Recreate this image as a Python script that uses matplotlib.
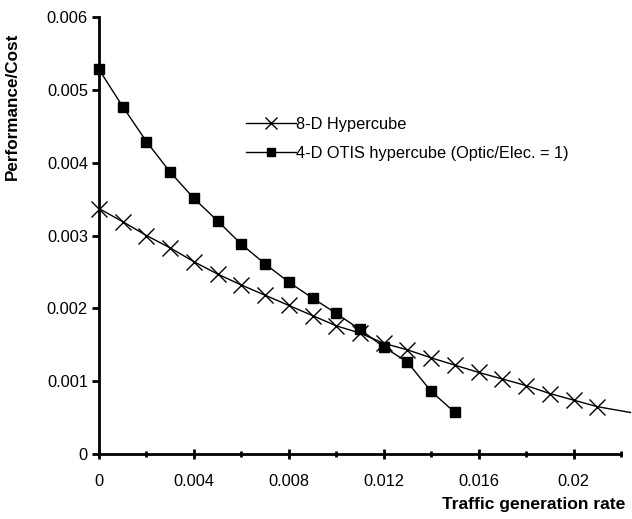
import matplotlib
matplotlib.use("Agg")
import matplotlib.pyplot as plt
import numpy as np

plt.rcParams['font.family'] = ['Liberation Sans', 'DejaVu Sans']

# Data
x_hyper = [0, 0.001, 0.002, 0.003, 0.004, 0.005, 0.006, 0.007, 0.008, 0.009, 0.010,
           0.011, 0.012, 0.013, 0.014, 0.015, 0.016, 0.017, 0.018, 0.019, 0.020, 0.021]
y_hyper = [0.00337, 0.00319, 0.00300, 0.00283, 0.00264, 0.00247, 0.00232, 0.00218, 0.00204,
           0.00190, 0.00176, 0.00166, 0.00152, 0.00143, 0.00132, 0.00122, 0.00112, 0.00103,
           0.00094, 0.00083, 0.00074, 0.00065]
x_hyper_tail = [0.021, 0.0224]
y_hyper_tail = [0.00065, 0.00057]

x_otis = [0, 0.001, 0.002, 0.003, 0.004, 0.005, 0.006, 0.007, 0.008, 0.009, 0.010,
          0.011, 0.012, 0.013, 0.014, 0.015]
y_otis = [0.00528, 0.00477, 0.00429, 0.00387, 0.00351, 0.00320, 0.00288, 0.00261, 0.00236,
          0.00214, 0.00193, 0.00171, 0.00147, 0.00126, 0.00086, 0.00057]

x_ticks = [0, 0.004, 0.008, 0.012, 0.016, 0.02]
x_ticklabels = ['0', '0.004', '0.008', '0.012', '0.016', '0.02']
y_ticks = [0, 0.001, 0.002, 0.003, 0.004, 0.005, 0.006]
y_ticklabels = ['0', '0.001', '0.002', '0.003', '0.004', '0.005', '0.006']

fig = plt.figure(figsize=(6.32, 5.19), dpi=100)
ax = fig.add_axes([99/632, 65/519, 522/632, 437/519])

ax.plot(x_hyper, y_hyper, color='black', lw=1.0, marker='x', ms=11, mew=1.0,
        label='8-D Hypercube', clip_on=False, zorder=3)
ax.plot(x_hyper_tail, y_hyper_tail, color='black', lw=1.0, clip_on=False, zorder=3)
ax.plot(x_otis, y_otis, color='black', lw=1.0, marker='s', ms=6.8,
        label='4-D OTIS hypercube (Optic/Elec. = 1)', clip_on=False, zorder=3)

ax.set_xlim(0, 0.022)
ax.set_ylim(0, 0.006)
ax.set_xticks(x_ticks)
ax.set_xticklabels(x_ticklabels)
ax.set_xticks(np.arange(0.002, 0.0221, 0.004), minor=True)
ax.set_yticks(y_ticks)
ax.set_yticklabels(y_ticklabels)

for s in ['top', 'right']:
    ax.spines[s].set_visible(False)
for s in ['left', 'bottom']:
    ax.spines[s].set_linewidth(2.0)

ax.tick_params(axis='y', which='major', direction='out', length=5, width=2, labelsize=11.8, pad=3)
ax.tick_params(axis='x', which='major', direction='inout', length=7, width=2, labelsize=11.8, pad=11)
ax.tick_params(axis='x', which='minor', direction='inout', length=5, width=2)

ax.set_ylabel('Performance/Cost', fontsize=12.3, fontweight='bold')
ax.yaxis.set_label_coords(-0.152, 0.795)
fig.text(625/632, 1 - 505/519, 'Traffic generation rate', fontsize=12.6, fontweight='bold',
         ha='right', va='center')

leg = ax.legend(loc='upper left', bbox_to_anchor=(0.27, 0.787), frameon=False,
                fontsize=11.8, handlelength=3.0, handletextpad=0.0, labelspacing=0.85,
                borderaxespad=0, markerscale=0.85)

fig.savefig('out.png', dpi=100)
